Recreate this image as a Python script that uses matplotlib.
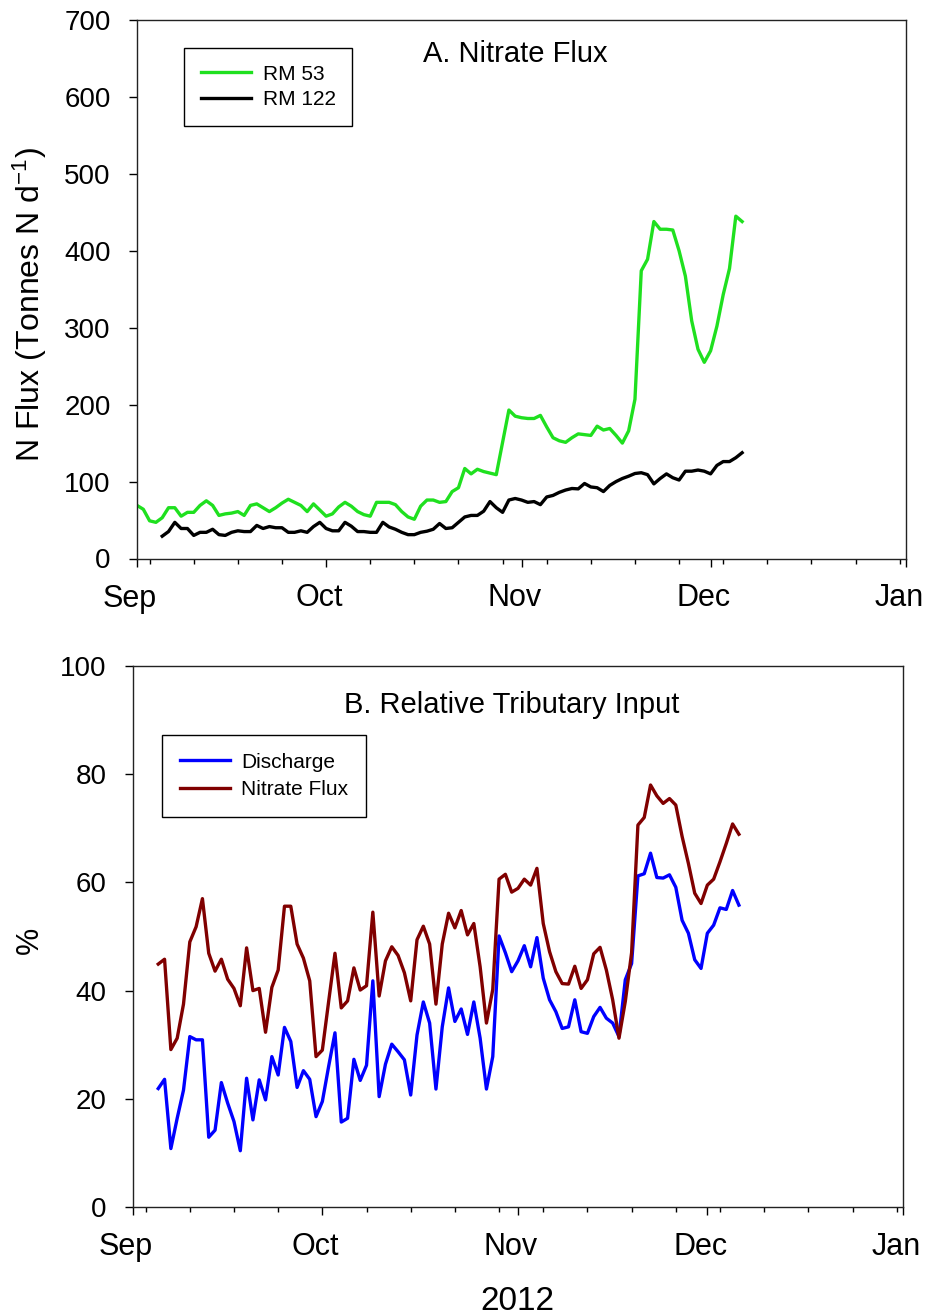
import matplotlib
matplotlib.use("Agg")
import matplotlib.pyplot as plt
import matplotlib.dates as mdates
import matplotlib.transforms as mtransforms
import pandas as pd

plt.rcParams['font.family'] = ['Liberation Sans', 'DejaVu Sans']
plt.rcParams['mathtext.default'] = 'regular'

# ---- Panel A: daily nitrate flux (tonnes N per day) ----
rm53_start = '2012-09-01'
rm53_flux = [69, 64, 49, 47, 53, 66, 66, 55, 60, 60,
             69, 75, 69, 56, 58, 59, 61, 56, 69, 71,
             66, 61, 66, 72, 77, 73, 69, 61, 71, 63,
             55, 58, 67, 73, 68, 61, 57, 55, 73, 73,
             73, 70, 61, 54, 51, 68, 76, 76, 73, 74,
             87, 92, 117, 110, 116, 113, 111, 109, 151, 193,
             185, 183, 182, 182, 186, 171, 157, 153, 151, 157,
             162, 161, 160, 172, 167, 169, 160, 150, 166, 207,
             374, 389, 438, 428, 428, 427, 400, 367, 309, 272,
             255, 270, 302, 343, 377, 445, 438]

rm122_start = '2012-09-05'
rm122_flux = [29, 35, 47, 39, 39, 30, 34, 34, 38, 31,
              30, 34, 36, 35, 35, 43, 39, 41.5, 40, 40,
              34, 34, 36, 34, 41.5, 47, 39, 36, 36, 47,
              42, 35, 35, 34, 34, 47, 41, 38, 34, 31,
              31, 34, 35.5, 38, 45.5, 39, 40, 47, 54, 56,
              56, 61.5, 74, 66, 60, 76, 78, 76, 73, 74,
              70, 80, 82, 86, 89, 91, 90.5, 97.5, 93, 92,
              87, 95, 100, 104, 107, 110.5, 111.5, 109, 97, 104,
              110, 105, 102, 113.5, 113.5, 115, 113.5, 110, 121, 126,
              126, 131, 137.5]

# ---- Panel B: relative tributary input (%) ----
trib_start = '2012-09-05'
discharge_pct = [21.9, 23.6, 10.8, 16.4, 21.6, 31.5, 30.9, 30.9, 12.9, 14.2,
                 23.0, 19.2, 15.8, 10.4, 23.8, 16.1, 23.5, 19.8, 27.8, 24.4,
                 33.2, 30.6, 22.1, 25.2, 23.6, 16.7, 19.5, 26.0, 32.2, 15.7,
                 16.4, 27.3, 23.4, 26.2, 41.8, 20.4, 26.4, 30.1, 28.7, 27.2,
                 20.7, 31.8, 37.9, 34.0, 21.8, 33.3, 40.5, 34.3, 36.6, 31.9,
                 37.9, 31.2, 21.8, 27.8, 50.1, 47.0, 43.5, 45.5, 48.3, 44.4,
                 49.8, 42.3, 38.3, 36.1, 33.0, 33.3, 38.3, 32.4, 32.1, 35.2,
                 36.9, 34.9, 34.0, 31.5, 42.0, 45.0, 61.2, 61.6, 65.4, 60.9,
                 60.8, 61.4, 59.1, 53.0, 50.6, 45.7, 44.1, 50.6, 52.1, 55.3,
                 55.0, 58.5, 55.8]
nitrate_pct = [44.9, 45.8, 29.1, 31.2, 37.5, 49.0, 51.8, 57.0, 46.9, 43.6,
               45.8, 42.1, 40.4, 37.2, 47.9, 40.0, 40.4, 32.3, 40.6, 43.8,
               55.6, 55.6, 48.6, 46.0, 41.8, 27.8, 29.0, 38.0, 46.9, 36.8,
               38.1, 44.2, 40.1, 40.9, 54.5, 39.0, 45.5, 48.1, 46.5, 43.3,
               38.1, 49.4, 51.9, 48.6, 37.5, 48.6, 54.3, 51.6, 54.8, 50.3,
               52.4, 44.4, 34.0, 40.2, 60.6, 61.5, 58.2, 58.9, 60.6, 59.5,
               62.6, 52.4, 47.2, 43.5, 41.3, 41.2, 44.5, 40.4, 42.0, 46.8,
               48.0, 43.8, 38.3, 31.2, 38.0, 47.0, 70.6, 72.0, 78.0, 76.0,
               74.6, 75.5, 74.3, 68.5, 63.5, 58.0, 56.1, 59.5, 60.6, 63.8,
               67.2, 70.8, 68.9]

panel_a_ticks = [0, 100, 200, 300, 400, 500, 600, 700]
panel_b_ticks = [0, 20, 40, 60, 80, 100]


def daily(start, values):
    return pd.date_range(start, periods=len(values), freq='D')


W, H = 925, 1316
fig = plt.figure(figsize=(W / 100, H / 100), dpi=100)
ax1 = fig.add_axes([137 / W, 1 - 558.5 / H, 769 / W, 538.5 / H])
ax2 = fig.add_axes([133 / W, 1 - 1207 / H, 770 / W, 541 / H])

LW = 2.4
ax1.plot(daily(rm53_start, rm53_flux), rm53_flux, color='#1fe01f', lw=LW, label='RM 53')
ax1.plot(daily(rm122_start, rm122_flux), rm122_flux, color='black', lw=LW, label='RM 122')

ax2.plot(daily(trib_start, discharge_pct), discharge_pct, color='#0000ff', lw=LW, label='Discharge')
ax2.plot(daily(trib_start, nitrate_pct), nitrate_pct, color='#800000', lw=LW, label='Nitrate Flux')

ax1.set_ylim(0, 700)
ax1.set_yticks(panel_a_ticks)
ax2.set_ylim(0, 100)
ax2.set_yticks(panel_b_ticks)

shift = mtransforms.ScaledTranslation(-7 / 100, 0, fig.dpi_scale_trans)
for ax in (ax1, ax2):
    ax.set_xlim(pd.Timestamp('2012-09-01'), pd.Timestamp('2013-01-01'))
    ax.xaxis.set_major_locator(mdates.MonthLocator())
    ax.xaxis.set_major_formatter(mdates.DateFormatter('%b'))
    ax.xaxis.set_minor_locator(mdates.WeekdayLocator(byweekday=mdates.MO))
    for s in ax.spines.values():
        s.set_linewidth(1.0)
        s.set_color('#222222')
    ax.tick_params(axis='both', which='major', direction='out', length=6,
                   width=1.0, top=False, right=False)
    ax.tick_params(axis='x', which='major', pad=12, labelsize=22)
    ax.tick_params(axis='y', which='major', pad=13, labelsize=20)
    ax.tick_params(axis='x', which='minor', direction='out', length=3.6,
                   width=1.0, top=False)
    ax.tick_params(axis='y', which='minor', left=False, right=False)
    # month names sit slightly left of their tick marks
    for tick in ax.xaxis.get_major_ticks():
        tick.label1.set_transform(tick.label1.get_transform() + shift)

ax1.text(0.4915, 0.9226, 'A. Nitrate Flux', transform=ax1.transAxes,
         ha='center', va='baseline', fontsize=21)
ax2.text(0.492, 0.9131, 'B. Relative Tributary Input', transform=ax2.transAxes,
         ha='center', va='baseline', fontsize=21)

leg1 = ax1.legend(loc='upper left', bbox_to_anchor=(0.0611, 0.948), borderaxespad=0,
                  fontsize=15, handlelength=2.4, handletextpad=0.58, borderpad=0.8,
                  labelspacing=0.32, fancybox=False, edgecolor='black', framealpha=1)
leg1.get_frame().set_linewidth(1.0)
leg2 = ax2.legend(loc='upper left', bbox_to_anchor=(0.0377, 0.8725), borderaxespad=0,
                  fontsize=15, handlelength=2.4, handletextpad=0.53, borderpad=0.85,
                  labelspacing=0.42, fancybox=False, edgecolor='black', framealpha=1)
leg2.get_frame().set_linewidth(1.0)

fig.text(30 / W, 1 - 305 / H, r'N Flux (Tonnes N d$^{\mathregular{-1}}$)', rotation=90,
         ha='center', va='center', fontsize=23)
fig.text(30 / W, 1 - 940 / H, '%', rotation=90, ha='center', va='center', fontsize=22)
fig.text(517 / W, 1 - 1302 / H, '2012', ha='center', va='center', fontsize=24)

fig.savefig('out.png', dpi=100)
